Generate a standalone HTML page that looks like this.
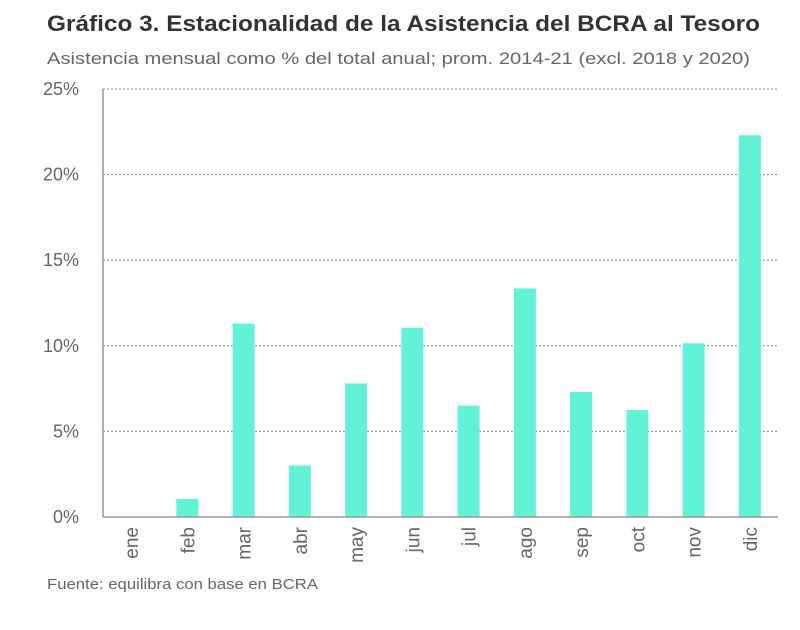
<!DOCTYPE html>
<html><head><meta charset="utf-8"><style>
body{margin:0;background:#fff;width:800px;height:625px;overflow:hidden;font-family:"Liberation Sans",sans-serif}
</style></head><body>
<svg width="800" height="625">
<text x="47" y="31" font-size="22" font-weight="bold" fill="#333" textLength="713" lengthAdjust="spacingAndGlyphs">Gráfico 3. Estacionalidad de la Asistencia del BCRA al Tesoro</text>
<text x="47" y="64" font-size="17" fill="#666" textLength="703" lengthAdjust="spacingAndGlyphs">Asistencia mensual como %  del total anual; prom. 2014-21 (excl. 2018 y 2020)</text>
<g id="grid"></g><g id="bars"></g><g id="xl"></g>
<line x1="103" y1="89" x2="103" y2="517" stroke="#999" stroke-width="1.5"/>
<line x1="103" y1="517" x2="778" y2="517" stroke="#999" stroke-width="1.5"/>
<text x="47" y="589" font-size="15" fill="#666" textLength="271" lengthAdjust="spacingAndGlyphs">Fuente: equilibra con base en BCRA</text>
</svg>
<script>
const categories=["ene","feb","mar","abr","may","jun","jul","ago","sep","oct","nov","dic"];
const values=[0,1.05,11.3,3.0,7.8,11.05,6.5,13.35,7.3,6.25,10.15,22.3];
const ticks=[0,5,10,15,20,25];
const tickLabels=["0%","5%","10%","15%","20%","25%"];
const NS="http://www.w3.org/2000/svg";
const x0=103,x1=778,y0=517,y1=89;
const y=v=>y0-(v/25)*(y0-y1);
const band=(x1-x0)/categories.length;
const xc=i=>x0+(i+0.5)*band;
function mk(t,a,p){const e=document.createElementNS(NS,t);for(const k in a)e.setAttribute(k,a[k]);p.appendChild(e);return e;}
const g=document.getElementById('grid'),b=document.getElementById('bars'),xl=document.getElementById('xl');
ticks.forEach((t,i)=>{
 if(t>0){const l=mk('line',{x1:x0,x2:x1,y1:y(t),y2:y(t),stroke:'#888','stroke-dasharray':'2,2'},g);
 
 }
 const tx=mk('text',{x:79,y:y(t)+6,'font-size':18,fill:'#666','text-anchor':'end'},g);
 tx.textContent=tickLabels[i];
 
 
});
categories.forEach((c,i)=>{
 const r=mk('rect',{x:xc(i)-11,y:y(values[i]),width:22,height:y0-y(values[i]),fill:'#62f2d6'},b);
 
 
 const t=mk('text',{x:0,y:0,'font-size':19,fill:'#666','text-anchor':'end',transform:`translate(${xc(i)+7},527) rotate(-90)`},xl);
 t.textContent=c;
 
 
});
</script>
</body></html>
